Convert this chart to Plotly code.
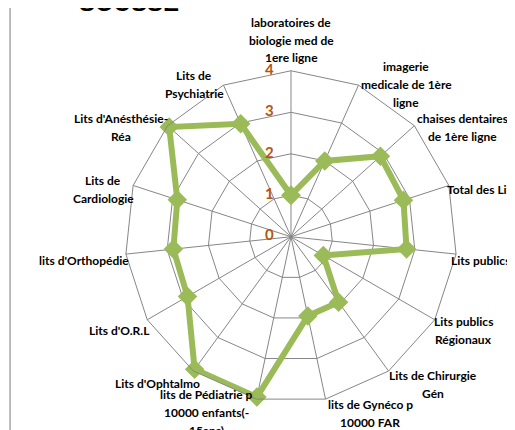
import plotly.graph_objects as go

categories = [
    "laboratoires de<br>biologie med de<br>1ere ligne",
    "imagerie<br>medicale de 1ère<br>ligne",
    "chaises dentaires<br>de 1ère ligne",
    "Total des Lits",
    "Lits publics",
    "Lits publics<br>Régionaux",
    "Lits de Chirurgie<br>Gén",
    "lits de Gynéco p<br>10000 FAR",
    "lits de Pédiatrie p<br>10000 enfants(-<br>15ans)",
    "Lits d'Ophtalmo",
    "Lits d'O.R.L",
    "lits d'Orthopédie",
    "Lits de<br>Cardiologie",
    "Lits d'Anésthésie-<br>Réa",
    "Lits de<br>Psychiatrie",
]
values = [1.0, 2.0, 2.9, 2.85, 2.8, 0.9, 1.95, 1.95, 3.95, 3.95, 2.88, 2.85, 2.88, 3.95, 2.98]
radial_ticks = [0, 1, 2, 3, 4]

# label placement (pixel x, pixel y of label centre, x anchor), same order as categories
label_pos = [
    (283, 32, "center"), (398, 76, "center"), (454, 119, "center"),
    (437, 182, "left"), (441, 253, "left"), (455, 322, "center"),
    (425, 376, "center"), (362, 405, "center"), (198, 404, "center"),
    (194, 375, "right"), (144, 322, "right"), (123, 253, "right"),
    (95, 181, "center"), (113, 119, "center"), (186, 77, "center"),
]

W, H = 515, 430
green = "#9BBB59"
grid = "#868686"
tick_col = "#B5560F"
line_gap = 18

fig = go.Figure()
fig.add_trace(go.Scatterpolar(
    r=values + values[:1],
    theta=categories + categories[:1],
    mode="lines+markers",
    line=dict(color=green, width=6),
    marker=dict(symbol="diamond", size=15, color=green),
    showlegend=False,
))
# radial tick labels, drawn left of the top spoke (0 nudged off the exact pole so it is drawn)
fig.add_trace(go.Scatterpolar(
    r=[max(t, 0.02) for t in radial_ticks],
    theta=[categories[0]] * len(radial_ticks),
    mode="markers+text",
    text=[str(t) for t in radial_ticks],
    textposition="middle left",
    textfont=dict(size=15, color=tick_col, family="Lato, sans-serif", weight="bold"),
    marker=dict(size=26, opacity=0),
    cliponaxis=False,
    showlegend=False,
    hoverinfo="skip",
))

annotations = []
for cat, (px_, py_, anchor) in zip(categories, label_pos):
    lines = cat.split("<br>")
    n = len(lines)
    for i, ln in enumerate(lines):
        y_pix = py_ + (i - (n - 1) / 2) * line_gap
        annotations.append(dict(
            text="<b>" + ln + "</b>",
            xref="paper", yref="paper",
            x=px_ / W, y=1 - y_pix / H,
            xanchor=anchor, yanchor="middle",
            showarrow=False,
            font=dict(size=12, family="Lato, sans-serif", color="black"),
        ))

annotations.append(dict(
    text="<b>SOUSSE</b>",
    xref="paper", yref="paper",
    x=121 / W, y=1, xanchor="center", yanchor="middle", yshift=6,
    showarrow=False,
    font=dict(size=24, family="Liberation Sans, Arial", color="black"),
))

fig.update_layout(
    width=W,
    height=H,
    margin=dict(l=0, r=0, t=0, b=0),
    paper_bgcolor="white",
    font=dict(family="Lato, Open Sans, sans-serif", size=12, color="black"),
    polar=dict(
        domain=dict(x=[0.227, 0.872], y=[0.082, 0.854]),
        bgcolor="white",
        gridshape="linear",
        angularaxis=dict(
            rotation=90,
            direction="clockwise",
            showline=True,
            linecolor=grid,
            linewidth=1,
            gridcolor=grid,
            ticks="",
            showticklabels=False,
        ),
        radialaxis=dict(
            range=[0, 4],
            tickvals=radial_ticks,
            angle=90,
            showline=False,
            ticks="",
            gridcolor=grid,
            showticklabels=False,
        ),
    ),
    annotations=annotations,
    shapes=[dict(
        type="line", xref="paper", yref="paper",
        x0=0.004, x1=0.004, y0=0, y1=1,
        line=dict(color="#A6A6A6", width=1.5),
    )],
)

fig.write_html("out.html")
